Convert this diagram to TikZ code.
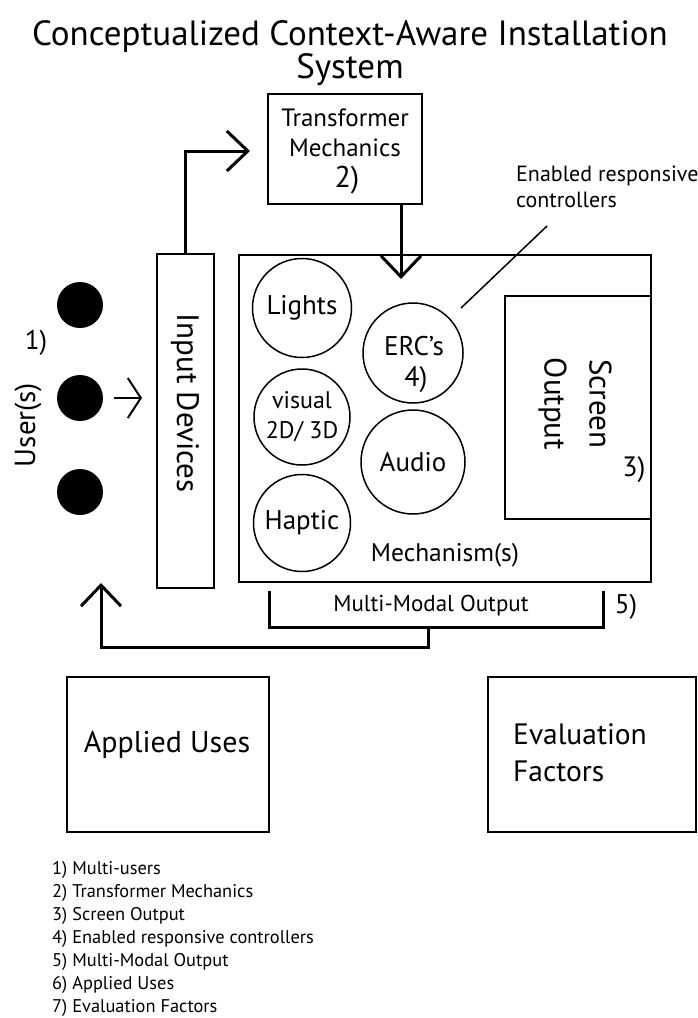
\documentclass[tikz,border=0pt]{standalone}
\usepackage{fontspec}
\setmainfont{PT Sans}
\usetikzlibrary{arrows.meta,calc}
\tikzset{
  box/.style={draw, line width=1.5pt, inner sep=0pt},
  bubble/.style={draw, circle, line width=1.5pt, inner sep=0pt, align=center},
  user/.style={circle, fill=black, inner sep=0pt, minimum size=46pt},
  thk/.style={line width=3pt},
  barb/.style={-{Straight Barb[length=21pt, width=40pt]}, line width=3pt},
  smallbarb/.style={-{Straight Barb[length=13pt, width=40pt]}, line width=2pt},
  lbl/.style={inner sep=0pt, align=center},
}
\begin{document}
\begin{tikzpicture}[x=1pt,y=-1pt]
\useasboundingbox (0,0) rectangle (697,1018);
% title
\node[lbl, font=\fontsize{35}{36}\selectfont] (title) at (350,37) {Conceptualized Context-Aware Installation};
\node[lbl, font=\fontsize{35}{36}\selectfont] (title2) at (350,70) {System};
% transformer
\node[box, minimum width=154pt, minimum height=110pt] (tm) at (345,149) {};
\node[lbl, font=\fontsize{25}{30}\selectfont] (tml) at (345,133) {Transformer\\Mechanics};
\node[lbl, font=\fontsize{30}{30}\selectfont] (tmn) at (347,180) {2)};
% input devices
\node[box, minimum width=57pt, minimum height=334pt] (inp) at (185.5,421) {};
\node[lbl, rotate=-90, font=\fontsize{31}{34}\selectfont] (inpl) at (185,403) {Input Devices};
% users
\node[user] (u1) at (80,305) {};
\node[user] (u2) at (80,398) {};
\node[user] (u3) at (80,492) {};
\node[lbl, font=\fontsize{27}{28}\selectfont] (one) at (36,343) {1)};
\node[lbl, rotate=90, font=\fontsize{29}{30}\selectfont] (users) at (28,425) {User(s)};
% mechanism box
\node[box, minimum width=412pt, minimum height=327pt] (mech) at (445,418.5) {};
\node[box, minimum width=146pt, minimum height=223pt] (scr) at (578,407.5) {};
\node[lbl, rotate=-90, font=\fontsize{31}{45}\selectfont] (scrl) at (575,404) {Screen\\Output};
\node[lbl, font=\fontsize{28}{28}\selectfont] (three) at (634,470) {3)};
\node[lbl, font=\fontsize{25.5}{28}\selectfont] (mechl) at (445,555) {Mechanism(s)};
% bubbles
\node[bubble, minimum size=99pt, font=\fontsize{27}{28}\selectfont] (lights) at (302,308) {Lights};
\node[bubble, minimum size=96pt, font=\fontsize{24}{30}\selectfont] (visual) at (302,417) {visual\\2D/ 3D};
\node[bubble, minimum size=97pt, font=\fontsize{27}{28}\selectfont] (haptic) at (302,523) {Haptic};
\node[bubble, minimum size=100pt] (erc) at (413,353) {};
\node[lbl, font=\fontsize{27}{28}\selectfont] (ercl) at (414,346) {ERC’s};
\node[lbl, font=\fontsize{28}{28}\selectfont] (four) at (416,380) {4)};
\node[bubble, minimum size=104pt, font=\fontsize{27}{28}\selectfont] (audio) at (413,462) {Audio};
% ERC annotation
\node[lbl, anchor=west, align=left, font=\fontsize{22}{26}\selectfont] (ercnote) at (516,187) {Enabled responsive\\controllers};
\coordinate (ercA) at (461,308);
\coordinate (ercB) at (547,226);
\draw[line width=1.5pt] (ercA) -- (ercB);
% arrows
\coordinate (tarr) at (250,151);
\draw[barb] (inp.north) |- (tarr);
\coordinate (dtip) at (401,279);
\draw[barb] (tm.south -| dtip) -- (dtip);
\coordinate (uarr) at (142,398);
\draw[smallbarb] ($(u2.east)+(11,0)$) -- (uarr);
% bracket
\coordinate (bl) at (269,591);
\coordinate (br) at (603,591);
\coordinate (bb) at (428,627);
\draw[thk] (bl) |- (bb) -| (br);
\node[lbl, font=\fontsize{23}{24}\selectfont] (mmo) at (431,606) {Multi-Modal Output};
\node[lbl, font=\fontsize{27}{28}\selectfont] (five) at (626,607) {5)};
\coordinate (rt) at (101,583);
\draw[barb] (bb) -- ++(0,20) -| (rt);
% lower boxes
\node[box, minimum width=202pt, minimum height=155pt] (applied) at (168,754.5) {};
\node[lbl, font=\fontsize{30}{30}\selectfont] (appliedl) at (167,745) {Applied Uses};
\node[box, minimum width=208pt, minimum height=155pt] (eval) at (592,754.5) {};
\node[lbl, anchor=west, align=left, font=\fontsize{29.5}{37}\selectfont] (evall) at (513,753) {Evaluation\\Factors};
% list
\node[lbl, anchor=north west, align=left, font=\fontsize{18.4}{23}\selectfont] (list) at (52,861) {1) Multi-users\\2) Transformer Mechanics\\3) Screen Output\\4) Enabled responsive controllers\\5) Multi-Modal Output\\6) Applied Uses\\7) Evaluation Factors};
\end{tikzpicture}
\end{document}
